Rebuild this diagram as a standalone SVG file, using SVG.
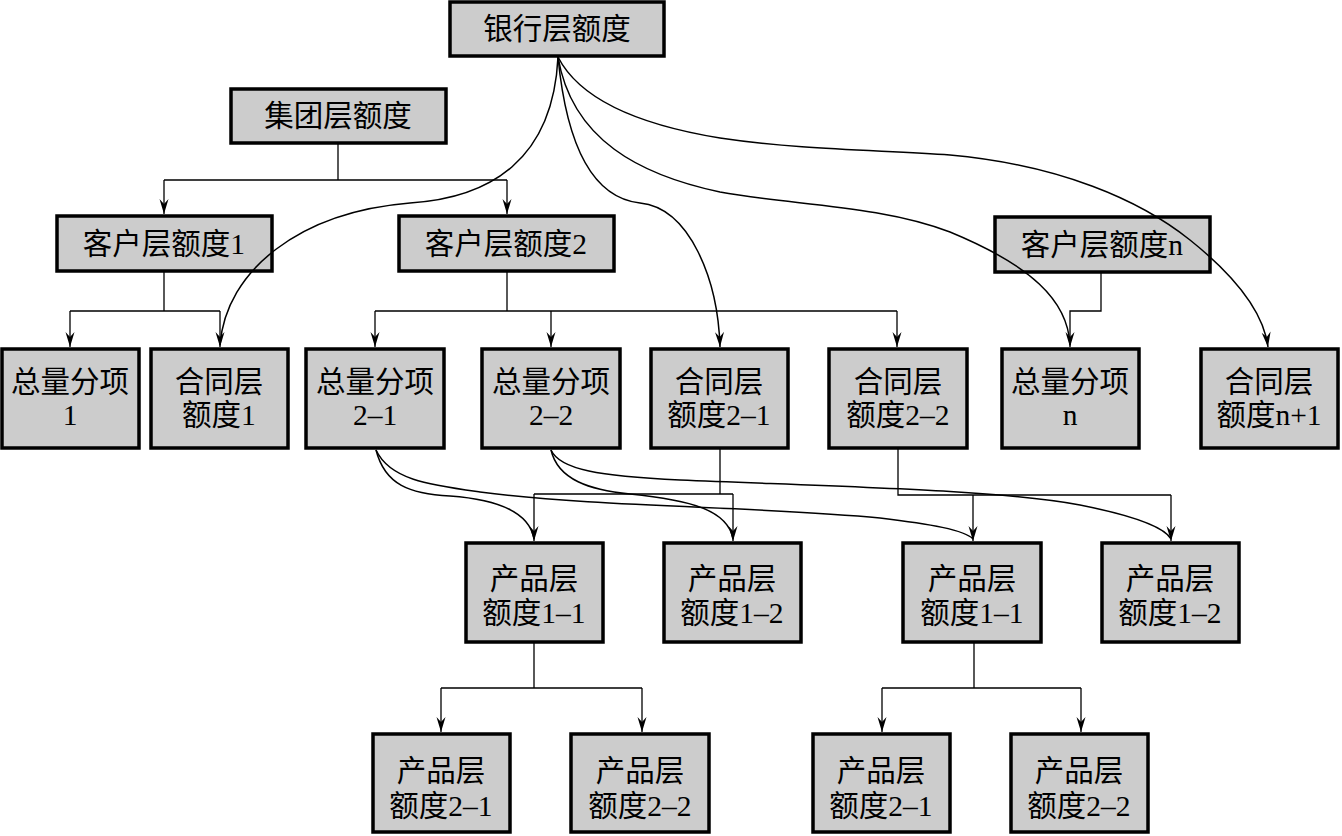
<svg xmlns="http://www.w3.org/2000/svg" width="1342" height="836" viewBox="0 0 1342 836">
<style>
.box{fill:#cccccc;stroke:#000;stroke-width:3.5}
.t{font-family:"Liberation Serif","Noto Sans CJK SC",serif;font-size:29.5px;fill:#000;text-anchor:middle;dominant-baseline:central}
.ln{fill:none;stroke:#000;stroke-width:1.3}
.cv{fill:none;stroke:#000;stroke-width:1.5}
</style>
<defs>
<marker id="ah" markerUnits="userSpaceOnUse" markerWidth="16" markerHeight="10" refX="0" refY="0" orient="auto" overflow="visible">
<path d="M0,0 L-15,-4.5 L-10,0 L-15,4.5 Z" fill="#000"/>
</marker>
</defs>
<g id="nodes">
<g id="n-bank"><rect class="box" x="450" y="2" width="214" height="54"/><text class="t" x="557" y="29">银行层额度</text></g>
<g id="n-group"><rect class="box" x="231" y="89" width="215" height="54"/><text class="t" x="338" y="116">集团层额度</text></g>
<g id="n-c1"><rect class="box" x="57" y="216" width="215" height="55"/><text class="t" x="164" y="244">客户层额度1</text></g>
<g id="n-c2"><rect class="box" x="399" y="216" width="215" height="55"/><text class="t" x="506" y="244">客户层额度2</text></g>
<g id="n-cn"><rect class="box" x="995" y="217" width="215" height="55"/><text class="t" x="1102" y="245">客户层额度n</text></g>

<g id="n-s1"><rect class="box" x="2" y="349" width="137" height="99"/><text class="t" x="70" y="382">总量分项</text><text class="t" x="70" y="415">1</text></g>
<g id="n-h1"><rect class="box" x="151" y="349" width="137" height="99"/><text class="t" x="219" y="382">合同层</text><text class="t" x="219" y="415">额度1</text></g>
<g id="n-s21"><rect class="box" x="306" y="349" width="138" height="99"/><text class="t" x="375" y="382">总量分项</text><text class="t" x="375" y="415">2–1</text></g>
<g id="n-s22"><rect class="box" x="482" y="349" width="138" height="99"/><text class="t" x="551" y="382">总量分项</text><text class="t" x="551" y="415">2–2</text></g>
<g id="n-h21"><rect class="box" x="651" y="349" width="137" height="99"/><text class="t" x="719" y="382">合同层</text><text class="t" x="719" y="415">额度2–1</text></g>
<g id="n-h22"><rect class="box" x="829" y="349" width="138" height="99"/><text class="t" x="898" y="382">合同层</text><text class="t" x="898" y="415">额度2–2</text></g>
<g id="n-sn"><rect class="box" x="1002" y="349" width="137" height="99"/><text class="t" x="1070" y="382">总量分项</text><text class="t" x="1070" y="415">n</text></g>
<g id="n-hn1"><rect class="box" x="1201" y="349" width="137" height="99"/><text class="t" x="1269" y="382">合同层</text><text class="t" x="1269" y="415">额度n+1</text></g>

<g id="n-p11a"><rect class="box" x="466" y="543" width="137" height="99"/><text class="t" x="534" y="579">产品层</text><text class="t" x="534" y="613">额度1–1</text></g>
<g id="n-p12a"><rect class="box" x="664" y="543" width="137" height="99"/><text class="t" x="732" y="579">产品层</text><text class="t" x="732" y="613">额度1–2</text></g>
<g id="n-p11b"><rect class="box" x="903" y="543" width="138" height="99"/><text class="t" x="972" y="579">产品层</text><text class="t" x="972" y="613">额度1–1</text></g>
<g id="n-p12b"><rect class="box" x="1102" y="543" width="137" height="99"/><text class="t" x="1170" y="579">产品层</text><text class="t" x="1170" y="613">额度1–2</text></g>

<g id="n-p21a"><rect class="box" x="373" y="734" width="137" height="98"/><text class="t" x="441" y="771">产品层</text><text class="t" x="441" y="806">额度2–1</text></g>
<g id="n-p22a"><rect class="box" x="571" y="734" width="138" height="98"/><text class="t" x="640" y="771">产品层</text><text class="t" x="640" y="806">额度2–2</text></g>
<g id="n-p21b"><rect class="box" x="813" y="734" width="137" height="98"/><text class="t" x="881" y="771">产品层</text><text class="t" x="881" y="806">额度2–1</text></g>
<g id="n-p22b"><rect class="box" x="1011" y="734" width="137" height="98"/><text class="t" x="1079" y="771">产品层</text><text class="t" x="1079" y="806">额度2–2</text></g>
</g>
<g id="connectors">
<path class="ln" d="M338,144 V180 M164,180 H507"/>
<path class="ln" d="M164,180 V214" marker-end="url(#ah)"/>
<path class="ln" d="M507,180 V214" marker-end="url(#ah)"/>
<path class="ln" d="M164,272 V311 M70,311 H220"/>
<path class="ln" d="M70,311 V347" marker-end="url(#ah)"/>
<path class="ln" d="M220,311 V347" marker-end="url(#ah)"/>
<path class="ln" d="M507,272 V311 M375,311 H897"/>
<path class="ln" d="M375,311 V347" marker-end="url(#ah)"/>
<path class="ln" d="M551,311 V347" marker-end="url(#ah)"/>
<path class="ln" d="M897,311 V347" marker-end="url(#ah)"/>
<path class="ln" d="M1101,273 V311 H1070 V347" marker-end="url(#ah)"/>
<path class="ln" d="M720,449 V494 M534,494 H733"/>
<path class="ln" d="M534,494 V541" marker-end="url(#ah)"/>
<path class="ln" d="M733,494 V541" marker-end="url(#ah)"/>
<path class="ln" d="M898,449 V495 H1171"/>
<path class="ln" d="M973,495 V541" marker-end="url(#ah)"/>
<path class="ln" d="M1171,495 V541" marker-end="url(#ah)"/>
<path class="ln" d="M534,643 V688 M441,688 H642"/>
<path class="ln" d="M441,688 V732" marker-end="url(#ah)"/>
<path class="ln" d="M642,688 V732" marker-end="url(#ah)"/>
<path class="ln" d="M974,643 V688 M882,688 H1081"/>
<path class="ln" d="M882,688 V732" marker-end="url(#ah)"/>
<path class="ln" d="M1081,688 V732" marker-end="url(#ah)"/>
<path class="cv" d="M558,57 C553,160 490,198 410,203 C300,212 226,270 220,345"/>
<path class="cv" d="M558,57 C567,150 594,198 640,203 C690,208 718,280 720,347" marker-end="url(#ah)"/>
<path class="cv" d="M558,57 C572,140 640,175 720,192 C790,205 880,205 950,232 C1030,265 1068,300 1070,345"/>
<path class="cv" d="M558,57 C580,100 640,125 720,138 C800,150 880,150 950,155 C1060,165 1140,200 1190,240 C1240,280 1264,315 1268,347" marker-end="url(#ah)"/>
<path class="cv" d="M376,450 C385,485 410,494 450,496 C505,500 530,515 534,539"/>
<path class="cv" d="M376,450 C390,480 430,485 480,492 C600,508 760,506 880,518 C930,524 965,530 973,539"/>
<path class="cv" d="M551,450 C558,480 590,490 630,494 C690,500 728,510 733,539"/>
<path class="cv" d="M551,450 C560,470 600,476 680,480 C850,487 1000,490 1080,505 C1140,517 1165,528 1171,539"/>
</g>
</svg>
